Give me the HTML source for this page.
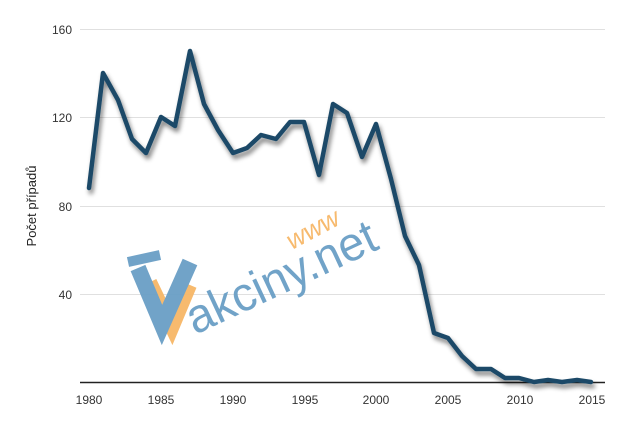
<!DOCTYPE html>
<html><head><meta charset="utf-8"><style>
html,body{margin:0;padding:0;background:#fff;}
svg{display:block;font-family:"Liberation Sans",sans-serif;}
</style></head><body>
<svg width="623" height="421" viewBox="0 0 623 421">
<defs><filter id="sh" x="-10%" y="-10%" width="120%" height="130%"><feGaussianBlur in="SourceAlpha" stdDeviation="2.5"/><feOffset dx="2" dy="4"/><feComponentTransfer><feFuncA type="linear" slope="0.5"/></feComponentTransfer><feMerge><feMergeNode/><feMergeNode in="SourceGraphic"/></feMerge></filter></defs>
<g stroke="#e0e0e0" stroke-width="1">
<line x1="80" y1="29.5" x2="605" y2="29.5"/>
<line x1="80" y1="117.5" x2="605" y2="117.5"/>
<line x1="80" y1="206.5" x2="605" y2="206.5"/>
<line x1="80" y1="294.5" x2="605" y2="294.5"/>
</g>
<line x1="80" y1="382.5" x2="605" y2="382.5" stroke="#222" stroke-width="1.5"/>
<g font-size="12" fill="#333" text-anchor="end">
<text x="72" y="34">160</text><text x="72" y="122">120</text><text x="72" y="211">80</text><text x="72" y="299">40</text>
</g>
<g font-size="12" fill="#333" text-anchor="middle">
<text x="89" y="404">1980</text><text x="161" y="404">1985</text><text x="233" y="404">1990</text><text x="305" y="404">1995</text><text x="376" y="404">2000</text><text x="448" y="404">2005</text><text x="520" y="404">2010</text><text x="592" y="404">2015</text>
</g>
<text transform="translate(36,206) rotate(-90)" font-size="13" fill="#222" text-anchor="middle">Počet případů</text>
<g opacity="0.95">
<path d="M150 282 L172 328 L190 285" fill="none" stroke="#f7b767" stroke-width="14"/>
<path d="M138 268 L162 325 L190 262" fill="none" stroke="#6a9fc6" stroke-width="16" stroke-linejoin="miter"/>
<path d="M128 262 L160 255" stroke="#6a9fc6" stroke-width="10"/>
<text transform="translate(195,335) rotate(-25)" font-size="48" fill="#6a9fc6" textLength="205" lengthAdjust="spacingAndGlyphs">akciny.net</text>
<text transform="translate(292,250) rotate(-28)" font-size="26" font-style="italic" fill="#f7b767">www</text>
</g>
<polyline filter="url(#sh)" fill="none" stroke="#1c4a68" stroke-width="4.5" stroke-linejoin="round" stroke-linecap="round" points="89,188 103,73 118,100 132,139 146,153 161,117 175,126 190,51 204,104 218,130 233,153 247,148 261,135 276,139 290,122 304,122 319,175 333,104 347,113 362,157 376,124 391,179 405,236 419,265 434,333 448,338 462,356 476,369 491,369 505,378 519,378 534,382 548,380 562,382 577,380 591,382"/>
</svg>
</body></html>
